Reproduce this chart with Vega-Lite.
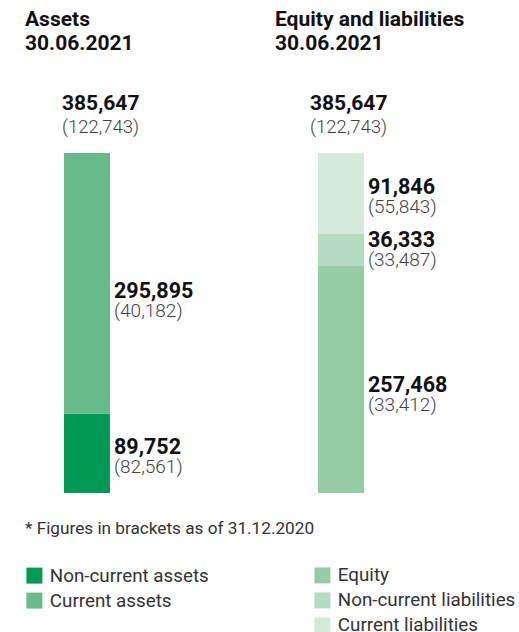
{
  "$schema": "https://vega.github.io/schema/vega-lite/v6.json",
  "width": 519,
  "height": 340,
  "autosize": {"type": "none"},
  "padding": {"top": 153, "bottom": 139, "left": 0, "right": 0},
  "background": "white",
  "config": {"view": {"stroke": null}, "font": "Roboto"},
  "datasets": {
    "items": [
      {"side": "Assets", "category": "Non-current assets", "value": 89752, "prev": 82561, "rank": 1},
      {"side": "Assets", "category": "Current assets", "value": 295895, "prev": 40182, "rank": 2},
      {"side": "Equity and liabilities", "category": "Equity", "value": 257468, "prev": 33412, "rank": 1},
      {"side": "Equity and liabilities", "category": "Non-current liabilities", "value": 36333, "prev": 33487, "rank": 2},
      {"side": "Equity and liabilities", "category": "Current liabilities", "value": 91846, "prev": 55843, "rank": 3}
    ],
    "totals": [
      {"side": "Assets", "total": 385647, "prev": 122743},
      {"side": "Equity and liabilities", "total": 385647, "prev": 122743}
    ]
  },
  "encoding": {
    "x": {
      "field": "side",
      "type": "nominal",
      "sort": ["Assets", "Equity and liabilities"],
      "scale": {"domain": ["Assets", "Equity and liabilities"], "range": [-40, 468], "paddingInner": 0, "paddingOuter": 0},
      "axis": {
        "orient": "top",
        "domain": false,
        "ticks": false,
        "title": null,
        "labelAngle": 0,
        "labelAlign": "left",
        "labelBaseline": "alphabetic",
        "labelOffset": {"condition": {"test": "datum.value == 'Assets'", "value": -62}, "value": -66},
        "labelPadding": 128,
        "labelFont": "Roboto",
        "labelFontSize": 21,
        "labelFontWeight": "bold",
        "labelColor": "#111111",
        "labelLineHeight": 24,
        "labelLimit": 0,
        "labelOverlap": false,
        "labelExpr": "[datum.label, '30.06.2021']"
      }
    }
  },
  "layer": [
    {
      "data": {"name": "items"},
      "transform": [{"filter": "datum.side == 'Assets'"}],
      "mark": {"type": "bar", "width": 46},
      "encoding": {
        "y": {"field": "value", "type": "quantitative", "stack": "zero", "scale": {"domain": [0, 385647], "nice": false}, "axis": null},
        "color": {
          "field": "category",
          "type": "nominal",
          "scale": {"domain": ["Non-current assets", "Current assets"], "range": ["#009a54", "#66bb88"]},
          "legend": {
            "orient": "none", "legendX": 25, "legendY": 367,
            "title": "* Figures in brackets as of 31.12.2020",
            "titleFont": "Roboto", "titleFontSize": 17.2, "titleFontWeight": "normal", "titleColor": "#333333", "titleLimit": 400, "titlePadding": 29,
            "symbolType": "square", "symbolSize": 256, "symbolStrokeWidth": 0,
            "labelFont": "Roboto", "labelFontSize": 18.8, "labelColor": "#333333", "labelOffset": 6, "labelLimit": 0,
            "rowPadding": 5
          }
        },
        "order": {"field": "rank", "type": "quantitative"}
      }
    },
    {
      "data": {"name": "items"},
      "transform": [{"filter": "datum.side != 'Assets'"}],
      "mark": {"type": "bar", "width": 46},
      "encoding": {
        "y": {"field": "value", "type": "quantitative", "stack": "zero"},
        "fill": {
          "field": "category",
          "type": "nominal",
          "scale": {"domain": ["Equity", "Non-current liabilities", "Current liabilities"], "range": ["#96cca4", "#b5dcc0", "#d5eadb"]},
          "legend": {
            "orient": "none", "legendX": 313, "legendY": 413,
            "title": null,
            "symbolType": "square", "symbolSize": 256, "symbolStrokeWidth": 0,
            "labelFont": "Roboto", "labelFontSize": 18.8, "labelColor": "#333333", "labelOffset": 6, "labelLimit": 0,
            "rowPadding": 5
          }
        },
        "order": {"field": "rank", "type": "quantitative"}
      }
    },
    {
      "data": {"name": "items"},
      "mark": {"type": "text", "align": "left", "baseline": "alphabetic", "dx": 27, "dy": -6, "font": "Roboto", "fontSize": 21.5, "fontWeight": "bold", "color": "#111111"},
      "encoding": {
        "y": {"field": "value", "type": "quantitative", "stack": "zero", "bandPosition": 0.42},
        "detail": {"field": "category"},
        "order": {"field": "rank", "type": "quantitative"},
        "text": {"field": "value", "type": "quantitative", "format": ",d"}
      }
    },
    {
      "data": {"name": "items"},
      "transform": [{"calculate": "'(' + format(datum.prev, ',') + ')'", "as": "prevLabel"}],
      "mark": {"type": "text", "align": "left", "baseline": "alphabetic", "dx": 27, "dy": 13, "font": "Roboto", "fontSize": 19, "fontWeight": 300, "color": "#444444"},
      "encoding": {
        "y": {"field": "value", "type": "quantitative", "stack": "zero", "bandPosition": 0.42},
        "detail": {"field": "category"},
        "order": {"field": "rank", "type": "quantitative"},
        "text": {"field": "prevLabel", "type": "nominal"}
      }
    },
    {
      "data": {"name": "totals"},
      "mark": {"type": "text", "align": "left", "baseline": "alphabetic", "dx": {"expr": "datum.side == 'Assets' ? -25 : -31"}, "dy": -43, "font": "Roboto", "fontSize": 21, "fontWeight": "bold", "color": "#111111"},
      "encoding": {
        "y": {"field": "total", "type": "quantitative", "stack": null},
        "text": {"field": "total", "type": "quantitative", "format": ",d"}
      }
    },
    {
      "data": {"name": "totals"},
      "transform": [{"calculate": "'(' + format(datum.prev, ',') + ')'", "as": "prevLabel"}],
      "mark": {"type": "text", "align": "left", "baseline": "alphabetic", "dx": {"expr": "datum.side == 'Assets' ? -25 : -31"}, "dy": -20, "font": "Roboto", "fontSize": 18.5, "fontWeight": 300, "color": "#444444"},
      "encoding": {
        "y": {"field": "total", "type": "quantitative", "stack": null},
        "text": {"field": "prevLabel", "type": "nominal"}
      }
    }
  ]
}
